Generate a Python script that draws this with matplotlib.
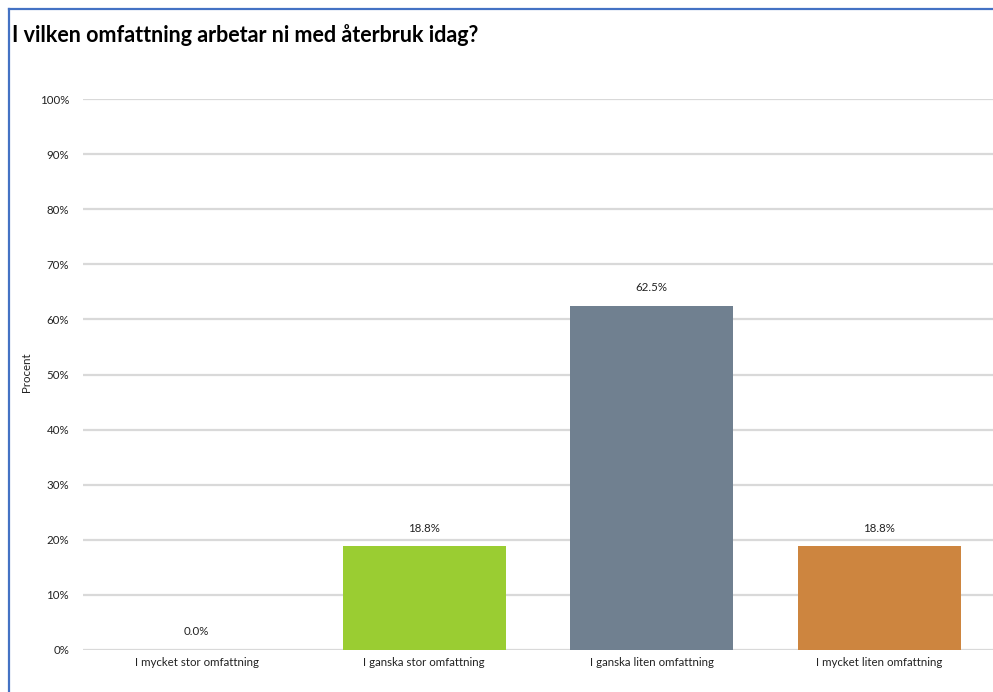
import matplotlib.pyplot as plt
from matplotlib.lines import Line2D
from matplotlib.ticker import PercentFormatter

categories = ['I mycket stor omfattning', 'I ganska stor omfattning',
              'I ganska liten omfattning', 'I mycket liten omfattning']
values = [0.0, 18.8, 62.5, 18.8]
colors = ['#5B9BD5', '#9ACD32', '#708090', '#CD853F']

plt.rcParams['font.family'] = ['Lato', 'DejaVu Sans']

fig = plt.figure(figsize=(9.93, 6.92), dpi=100)
ax = fig.add_axes([0.0836, 0.0607, 0.9164, 0.7962])

x = range(len(categories))
bars = ax.bar(x, values, width=0.715, color=colors, zorder=3)
for xi, v in zip(x, values):
    ax.annotate(f'{v:.1f}%', (xi, v), xytext=(0, 9), textcoords='offset points',
                ha='center', va='bottom', fontsize=8.3, color='#222222')

ax.set_xlim(-0.5, 3.5)
ax.set_ylim(0, 100)
ax.set_yticks(range(0, 101, 10))
ax.yaxis.set_major_formatter(PercentFormatter(decimals=0))
ax.set_xticks(list(x))
ax.set_xticklabels(categories)
ax.tick_params(axis='both', length=0, labelsize=8.3, colors='#222222')
ax.tick_params(axis='y', pad=10)
ax.tick_params(axis='x', pad=5)
ax.grid(axis='y', color='#d9d9d9', linewidth=1.6, zorder=0)
for s in ax.spines.values():
    s.set_visible(False)

fig.text(0.027, 0.4624, 'Procent', fontsize=8.3, color='#222222',
         rotation=90, ha='center', va='center')
fig.text(0.012, 0.949, 'I vilken omfattning arbetar ni med återbruk idag?',
         fontsize=15.5, fontweight='bold', va='center', ha='left')

# blue frame lines at top and left
fig.add_artist(Line2D([0.0095, 1.0], [0.9875, 0.9875], color='#4472C4', linewidth=1.6))
fig.add_artist(Line2D([0.0095, 0.0095], [0.0, 0.9875], color='#4472C4', linewidth=1.6))

fig.savefig('out.png', dpi=100)
